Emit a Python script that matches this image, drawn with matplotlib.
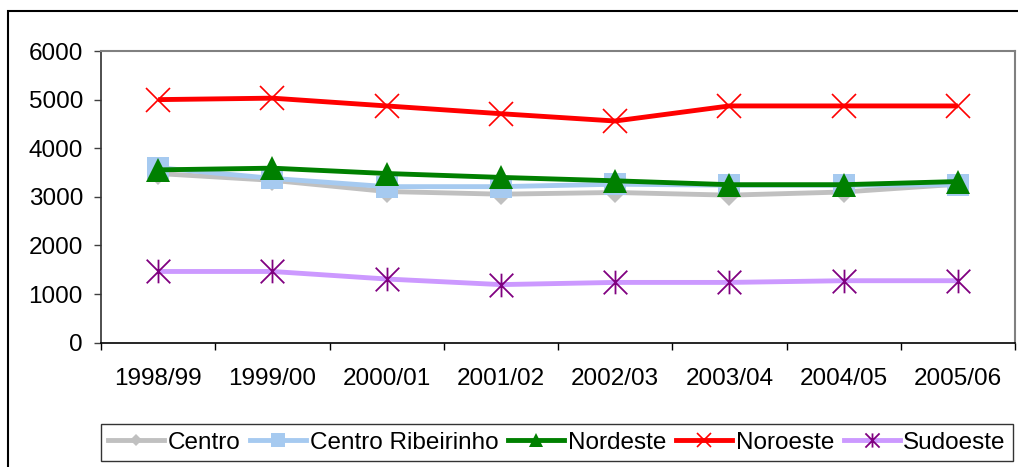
import matplotlib.pyplot as plt
import numpy as np
from matplotlib.path import Path
from matplotlib.lines import Line2D
from matplotlib.patches import Rectangle

plt.rcParams['font.family'] = ['Liberation Sans', 'DejaVu Sans']

years = ['1998/99', '1999/00', '2000/01', '2001/02', '2002/03', '2003/04', '2004/05', '2005/06']
centro = [3480, 3340, 3110, 3055, 3090, 3035, 3100, 3260]
centro_rib = [3600, 3380, 3210, 3210, 3260, 3240, 3240, 3250]
nordeste = [3555, 3590, 3480, 3400, 3330, 3250, 3250, 3315]
noroeste = [5000, 5030, 4870, 4710, 4560, 4870, 4870, 4870]
sudoeste = [1465, 1465, 1310, 1195, 1240, 1240, 1275, 1275]
names = ['Centro', 'Centro Ribeirinho', 'Nordeste', 'Noroeste', 'Sudoeste']

# asterisk like the excel one: an x with a vertical bar
star = Path([(-1, -1), (1, 1), (-1, 1), (1, -1), (0, -1), (0, 1)],
            [Path.MOVETO, Path.LINETO, Path.MOVETO, Path.LINETO, Path.MOVETO, Path.LINETO])

styles = [
    dict(color='#C0C0C0', marker='D', ms=11, mfc='#C0C0C0', mec='#C0C0C0', mew=0),
    dict(color='#A6CAF0', marker='s', ms=16, mfc='#A6CAF0', mec='#A6CAF0', mew=0),
    dict(color='#008000', marker='^', ms=17, mfc='#008000', mec='#008000', mew=0),
    dict(color='#FF0000', marker='x', ms=17, mfc='#FF0000', mec='#FF0000', mew=1.2),
    dict(color='#CC99FF', marker=star, ms=17, mfc='#800080', mec='#800080', mew=1.3),
]
series = [centro, centro_rib, nordeste, noroeste, sudoeste]

fig = plt.figure(figsize=(10.18, 4.67), dpi=100)
ax = fig.add_axes([101/1018, 1-342.7/467, (1015-101)/1018, (342.7-51)/467])

x = np.arange(1, len(years)+1)
for vals, st, name in zip(series, styles, names):
    ax.plot(x, vals, lw=3.5, label=name, solid_capstyle='butt', **st)

ax.set_xlim(0.5, len(years)+0.5)
ax.set_ylim(0, 6000)
ax.set_yticks(np.arange(0, 6001, 1000))
ax.set_xticks(x)
ax.set_xticklabels(years)
ax.set_xticks(np.arange(0.5, len(years)+1, 1), minor=True)
ax.tick_params(axis='x', which='major', length=0, pad=18, labelsize=17.5)
ax.tick_params(axis='x', which='minor', length=5, width=1, direction='out', color='black')
ax.tick_params(axis='y', length=5, width=1, direction='out', pad=8, labelsize=17.5, color='#404040')
for s in ['top', 'right']:
    ax.spines[s].set_color('#808080')
    ax.spines[s].set_linewidth(1.5)
ax.spines['left'].set_color('#303030')
ax.spines['bottom'].set_color('black')
ax.spines['left'].set_linewidth(1.2)
ax.spines['bottom'].set_linewidth(1.2)

# legend with small markers
handles = []
for st, name in zip(styles, names):
    st2 = dict(st)
    st2['ms'] = st['ms'] * 0.6
    handles.append(Line2D([], [], lw=3.5, label=name, **st2))
leg = fig.legend(handles=handles, loc='center', bbox_to_anchor=(0.5472, 1-442.5/467),
                 ncol=5, fontsize=17.5, frameon=True, fancybox=False, edgecolor='black',
                 handlelength=2.3, handletextpad=0.15, columnspacing=0.4, borderpad=0.3,
                 borderaxespad=0)
leg.get_frame().set_linewidth(1)

# chart border
fig.patches.append(Rectangle((8/1018, -0.1), 1.2, 1.1-11/467, transform=fig.transFigure,
                             fill=False, ec='black', lw=1.5))

plt.savefig('out.png', dpi=100)
